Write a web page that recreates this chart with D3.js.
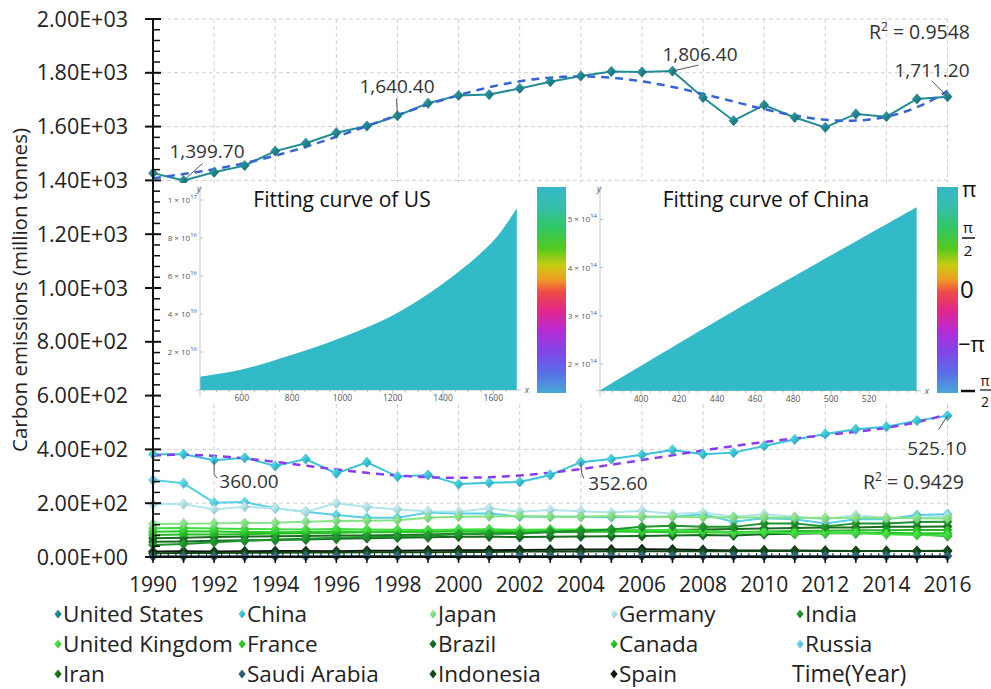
<!DOCTYPE html>
<html>
<head>
<meta charset="utf-8">
<script src="https://cdn.jsdelivr.net/npm/d3@7"></script>
<style>
  body { margin: 0; background: #fff; }
  svg { display: block; font-family: "Open Sans", "Noto Sans", sans-serif; }
</style>
</head>
<body>
<svg id="chart" width="991" height="689"></svg>
<script>
// ---------- data ----------
const years = d3.range(1990, 2017);
const yearTickValues = d3.range(1990, 2017, 2);
const yTickValues = d3.range(0, 2001, 200);

const countryNames = ["United States", "China", "Japan", "Germany", "India",
  "United Kingdom", "France", "Brazil", "Canada", "Russia",
  "Iran", "Saudi Arabia", "Indonesia", "Spain"];
const countryColors = ["#1f8088", "#38bcd2", "#7fdc7f", "#a9dde4", "#1d8f2b",
  "#3ed43e", "#22c422", "#14681f", "#27b327", "#56c9e0",
  "#176a1d", "#2c5d6d", "#0f4716", "#111611"];

const unitedStates = [1427, 1399.7, 1430, 1455, 1509, 1538, 1577, 1602, 1640.4, 1687,
  1716, 1719, 1742, 1767, 1788, 1805, 1803, 1806.4, 1708, 1622,
  1680, 1634, 1597, 1647, 1637, 1703, 1711.2];
const china = [382, 382, 360.0, 369, 338, 364, 311, 352, 299, 305,
  271, 276, 279, 305, 352.6, 364, 380, 398, 382, 388,
  413, 437, 457, 475, 484, 507, 525.1];
const japan = [123, 124, 125, 126, 127, 131, 134, 135, 137, 146,
  150, 151, 152, 150, 150, 152, 150, 150, 148, 147,
  147, 146, 145, 146, 145, 144, 143];
const germany = [197, 197, 177, 187, 181, 168, 200, 186, 177, 170,
  168, 181, 168, 175, 170, 165, 172, 160, 165, 150,
  159, 150, 140, 156, 145, 145, 152];
const india = [45, 48, 55, 60, 65, 68, 72, 74, 76, 80,
  85, 86, 86, 94, 98, 102, 112, 116, 112, 112,
  125, 125, 113, 125, 125, 130, 131];
const unitedKingdom = [107, 108, 106, 104, 103, 102, 104, 102, 101, 100,
  102, 103, 101, 102, 102, 101, 100, 100, 98, 90,
  93, 88, 90, 88, 85, 82, 80];
const france = [94, 96, 95, 93, 92, 93, 95, 94, 96, 95,
  95, 96, 94, 95, 96, 95, 94, 92, 92, 90,
  92, 88, 90, 91, 88, 88, 88];
const brazil = [57, 58, 60, 62, 63, 65, 68, 70, 72, 73,
  75, 76, 74, 75, 76, 77, 78, 80, 82, 80,
  85, 86, 88, 88, 90, 85, 78];
const canada = [82, 84, 84, 85, 87, 88, 90, 92, 93, 94,
  98, 96, 97, 100, 99, 98, 98, 100, 97, 92,
  95, 97, 98, 99, 99, 100, 100];
const russia = [286, 274, 202, 204, 181, 168, 156, 146, 146, 165,
  162, 162, 150, 150, 150, 148, 150, 150, 159, 131,
  144, 140, 125, 140, 140, 156, 159];
const iran = [70, 72, 74, 76, 77, 78, 80, 80, 82, 84,
  86, 88, 90, 92, 94, 96, 98, 100, 102, 104,
  106, 108, 110, 110, 112, 112, 113];
const saudiArabia = [3, 3, 3, 3, 3, 3, 4, 4, 4, 4,
  4, 4, 4, 4, 4, 4, 4, 4, 4, 4,
  4, 4, 4, 4, 4, 4, 4];
const indonesia = [14, 15, 15, 16, 16, 17, 17, 18, 18, 18,
  19, 19, 20, 20, 20, 21, 21, 21, 21, 21,
  22, 22, 22, 22, 22, 22, 22];
const spain = [20, 21, 20, 21, 22, 22, 21, 23, 23, 24,
  25, 25, 26, 27, 28, 28, 29, 28, 26, 24,
  24, 24, 23, 22, 22, 22, 23];

const seriesValues = [unitedStates, china, japan, germany, india,
  unitedKingdom, france, brazil, canada, russia,
  iran, saudiArabia, indonesia, spain];

const usRSquared = "0.9548";
const chinaRSquared = "0.9429";

// inset curves (x value, y value) and their axes
const usCurveX = [435, 600, 800, 1000, 1200, 1400, 1600, 1693];
const usCurveY = [0.70e16, 1.08e16, 1.85e16, 2.78e16, 3.92e16, 5.6e16, 7.85e16, 9.57e16];
const usInsetXTicks = [600, 800, 1000, 1200, 1400, 1600];
const usInsetYTicks = [2e16, 4e16, 6e16, 8e16, 1e17];
const chinaCurveX = [378, 460, 545];
const chinaCurveY = [1.45e14, 3.36e14, 5.25e14];
const chinaInsetXTicks = [400, 420, 440, 460, 480, 500, 520];
const chinaInsetYTicks = [2e14, 3e14, 4e14, 5e14];

// ---------- helpers ----------
function polyFit(xs, ys, degree) {
  const mid = (d3.min(xs) + d3.max(xs)) / 2, half = (d3.max(xs) - d3.min(xs)) / 2;
  const n = degree + 1;
  const A = Array.from({length: n}, () => new Array(n).fill(0));
  const b = new Array(n).fill(0);
  xs.forEach((xv, i) => {
    const t = (xv - mid) / half;
    const pw = [];
    for (let k = 0; k < 2 * n; k++) pw.push(Math.pow(t, k));
    for (let r = 0; r < n; r++) {
      b[r] += ys[i] * pw[r];
      for (let c = 0; c < n; c++) A[r][c] += pw[r + c];
    }
  });
  for (let col = 0; col < n; col++) {
    let piv = col;
    for (let r = col + 1; r < n; r++) if (Math.abs(A[r][col]) > Math.abs(A[piv][col])) piv = r;
    [A[col], A[piv]] = [A[piv], A[col]];
    [b[col], b[piv]] = [b[piv], b[col]];
    for (let r = col + 1; r < n; r++) {
      const f = A[r][col] / A[col][col];
      for (let c = col; c < n; c++) A[r][c] -= f * A[col][c];
      b[r] -= f * b[col];
    }
  }
  const coef = new Array(n).fill(0);
  for (let r = n - 1; r >= 0; r--) {
    let s = b[r];
    for (let c = r + 1; c < n; c++) s -= A[r][c] * coef[c];
    coef[r] = s / A[r][r];
  }
  return xv => {
    const t = (xv - mid) / half;
    return coef.reduce((acc, c, k) => acc + c * Math.pow(t, k), 0);
  };
}

function diamondPath(w, h) {
  return `M0,${-h}L${w},0L0,${h}L${-w},0Z`;
}

// ---------- scales ----------
const svg = d3.select("#chart");
const x = d3.scaleLinear().domain([1990, 2016]).range([153, 947.5]);
const y = d3.scaleLinear().domain([0, 2000]).range([557, 19]);

const defs = svg.append("defs");
countryColors.forEach((c, i) => {
  const g = defs.append("linearGradient").attr("id", "mk" + i)
    .attr("x1", "0").attr("y1", "0").attr("x2", "1").attr("y2", "1");
  g.append("stop").attr("offset", "0%").attr("stop-color", d3.color(c).brighter(0.9));
  g.append("stop").attr("offset", "55%").attr("stop-color", c);
  g.append("stop").attr("offset", "100%").attr("stop-color", d3.color(c).darker(0.6));
});

// ---------- grid ----------
const grid = svg.append("g").attr("stroke", "#cfcfcf").attr("stroke-width", 1)
  .attr("stroke-dasharray", "4,3");
grid.selectAll("line.h").data(yTickValues.filter(v => v > 0)).join("line")
  .attr("x1", x(1990)).attr("x2", x(2016))
  .attr("y1", d => y(d)).attr("y2", d => y(d));
grid.selectAll("line.v").data(yearTickValues.filter(v => v > 1990)).join("line")
  .attr("x1", d => x(d)).attr("x2", d => x(d))
  .attr("y1", y(2000)).attr("y2", y(0));

// ---------- series ----------
const line = d3.line().x((d, i) => x(years[i])).y(d => y(d));
const seriesLayer = svg.append("g");
const drawOrder = d3.range(seriesValues.length).reverse();

const usFit = polyFit(years, unitedStates, 6);
const chinaFit = polyFit(years, china, 6);
const fineYears = d3.range(1990, 2016.001, 0.1);

drawOrder.forEach(i => {
  const g = seriesLayer.append("g");
  const vals = seriesValues[i];
  g.append("path").datum(vals)
    .attr("d", line).attr("fill", "none")
    .attr("stroke", d3.color(countryColors[i]).brighter(i === 0 ? 0.25 : 0.1))
    .attr("stroke-width", 2);
  if (i === 1) {
    g.append("path").datum(fineYears)
      .attr("d", d3.line().x(d => x(d)).y(d => y(chinaFit(d))))
      .attr("fill", "none").attr("stroke", "#8a3cf0").attr("stroke-width", 2.5)
      .attr("stroke-dasharray", "8,6");
  }
  if (i === 0) {
    g.append("path").datum(fineYears)
      .attr("d", d3.line().x(d => x(d)).y(d => y(usFit(d))))
      .attr("fill", "none").attr("stroke", "#3563d8").attr("stroke-width", 2.5)
      .attr("stroke-dasharray", "8,6");
  }
  g.selectAll("path.mk").data(vals).join("path")
    .attr("class", "mk")
    .attr("d", diamondPath(4.6, 5.2))
    .attr("transform", (d, j) => `translate(${x(years[j])},${y(d)})`)
    .attr("fill", `url(#mk${i})`)
    .attr("stroke", d3.color(countryColors[i]).darker(0.3)).attr("stroke-width", 0.5);
});

// ---------- value annotations ----------
const fmt = d3.format(",.2f");
const annotations = [
  {s: 0, yr: 1991, lx: 207, ly: 158, path: (px, py) => `M${px},${py}L${px + 19},${py - 17}`},
  {s: 0, yr: 1998, lx: 397, ly: 93, path: (px, py) => `M${px},${py}L${px - 1},${py - 17}`},
  {s: 0, yr: 2007, lx: 700, ly: 61, path: (px, py) => `M${px},${py}L${px + 26},${py - 6}`},
  {s: 0, yr: 2016, lx: 932, ly: 77, path: (px, py) => `M${px},${py}L${px - 16},${py - 16}`},
  {s: 1, yr: 1992, lx: 249, ly: 488, path: (px, py) => `M${px},${py}L${px},${py + 14}L${px + 3},${py + 18}`},
  {s: 1, yr: 2004, lx: 618, ly: 490, path: (px, py) => `M${px},${py}L${px + 1},${py + 12}L${px + 3},${py + 16}`},
  {s: 1, yr: 2016, lx: 937, ly: 455, path: (px, py) => `M${px},${py}L${px - 9},${py + 14}`}
];
const annLayer = svg.append("g");
annotations.forEach(a => {
  const v = seriesValues[a.s][years.indexOf(a.yr)];
  const px = x(a.yr), py = y(v);
  annLayer.append("path").attr("d", a.path(px, py))
    .attr("stroke", "#555").attr("stroke-width", 1).attr("fill", "none");
  annLayer.append("text").attr("x", a.lx).attr("y", a.ly)
    .attr("text-anchor", "middle").attr("font-size", 19).attr("fill", "#333")
    .text(fmt(v));
});

function rSquared(xr, yb, val) {
  const t = annLayer.append("text").attr("x", xr).attr("y", yb)
    .attr("text-anchor", "end").attr("font-size", 19.5).attr("fill", "#333");
  t.append("tspan").text("R");
  t.append("tspan").attr("font-size", 12).attr("dy", -8).text("2");
  t.append("tspan").attr("dy", 8).text(" = " + val);
}
rSquared(970, 39, usRSquared);
rSquared(964, 489, chinaRSquared);

// ---------- insets ----------
const inset = svg.append("g");
inset.append("rect").attr("x", 161).attr("y", 183).attr("width", 830).attr("height", 220)
  .attr("fill", "#fff");

const hueStops = [
  [0, "#36b8c7"], [0.1, "#35bfa9"], [0.2, "#30c862"], [0.3, "#55c91e"],
  [0.38, "#c9cc12"], [0.45, "#f09a22"], [0.51, "#ee4b45"], [0.6, "#e3268a"],
  [0.7, "#b52bd6"], [0.8, "#8045e6"], [0.9, "#5a6ee8"], [1, "#47a8d6"]];
const cb = defs.append("linearGradient").attr("id", "hueBar")
  .attr("x1", 0).attr("y1", 0).attr("x2", 0).attr("y2", 1);
hueStops.forEach(s => cb.append("stop").attr("offset", s[0]).attr("stop-color", s[1]));

function sciLabel(sel, mant, exp) {
  sel.append("tspan").text(mant + " \u00d7 10");
  sel.append("tspan").attr("font-size", 6).attr("dy", -4).text(exp);
}

function drawInset(o) {
  const g = inset.append("g");
  const ix = d3.scaleLinear().domain(o.xDomain).range([o.left, o.right]);
  const iy = d3.scaleLinear().domain(o.yDomain).range([o.bottom, o.bottom - o.yPx]);
  g.append("line").attr("x1", o.left).attr("x2", o.left).attr("y1", o.top).attr("y2", o.bottom + 6)
    .attr("stroke", "#c8c8c8");
  g.append("line").attr("x1", o.left - 4).attr("x2", o.right + 4).attr("y1", o.bottom).attr("y2", o.bottom)
    .attr("stroke", "#c8c8c8");
  const area = d3.area().x((d, i) => ix(o.cx[i])).y0(o.bottom).y1(d => iy(d))
    .curve(d3.curveCatmullRom.alpha(0.5));
  g.append("path").datum(o.cy).attr("d", area).attr("fill", "#33bac8");
  const xt = ix.ticks(o.xTicks.length * 4).filter(v => v >= o.xDomain[0] && v <= o.xDomain[1]);
  g.selectAll("line.xt").data(xt).join("line")
    .attr("x1", d => ix(d)).attr("x2", d => ix(d))
    .attr("y1", o.bottom).attr("y2", d => o.xTicks.includes(d) ? o.bottom + 4 : o.bottom + 2)
    .attr("stroke", "#bbb");
  g.selectAll("text.xl").data(o.xTicks).join("text")
    .attr("x", d => ix(d)).attr("y", o.bottom + 11)
    .attr("text-anchor", "middle").attr("font-size", 8.5).attr("fill", "#555")
    .text(d => d);
  g.selectAll("line.yt").data(o.yTicks).join("line")
    .attr("x1", o.left).attr("x2", o.left + 3)
    .attr("y1", d => iy(d)).attr("y2", d => iy(d)).attr("stroke", "#bbb");
  o.yTicks.forEach(v => {
    const e = Math.floor(Math.log10(v) + 1e-9);
    const m = Math.round(v / Math.pow(10, e));
    const t = g.append("text").attr("x", o.left - 3).attr("y", iy(v) + 3)
      .attr("text-anchor", "end").attr("font-size", 8).attr("fill", "#555");
    sciLabel(t, m, e);
  });
  g.append("text").attr("x", o.left - 1).attr("y", o.top + 6).attr("font-size", 9)
    .attr("font-style", "italic").attr("fill", "#555").attr("text-anchor", "middle").text("y");
  g.append("text").attr("x", o.right + 10).attr("y", o.bottom + 3).attr("font-size", 9)
    .attr("font-style", "italic").attr("fill", "#555").attr("text-anchor", "middle").text("x");
  g.append("text").attr("x", o.titleX).attr("y", 207).attr("text-anchor", "middle")
    .attr("font-size", 21).attr("fill", "#111").text(o.title);
  g.append("rect").attr("x", o.barX).attr("y", 187).attr("width", o.barW).attr("height", 206)
    .attr("fill", "url(#hueBar)");
}

drawInset({
  title: "Fitting curve of US", titleX: 342,
  left: 200, right: 517, top: 186, bottom: 390, yPx: 190,
  xDomain: [434, 1694], yDomain: [0, 1e17],
  cx: usCurveX, cy: usCurveY, xTicks: usInsetXTicks, yTicks: usInsetYTicks,
  barX: 537, barW: 29
});
drawInset({
  title: "Fitting curve of China", titleX: 766,
  left: 600, right: 917, top: 186, bottom: 390.7, yPx: 171.4,
  xDomain: [378.4, 545.2], yDomain: [1.45e14, 5e14],
  cx: chinaCurveX, cy: chinaCurveY, xTicks: chinaInsetXTicks, yTicks: chinaInsetYTicks,
  barX: 937, barW: 21
});

// colorbar phase labels
const ph = inset.append("g").attr("fill", "#111");
ph.append("text").attr("x", 962).attr("y", 197).attr("font-size", 22).text("\u03c0");
ph.append("text").attr("x", 968).attr("y", 233).attr("font-size", 15).attr("text-anchor", "middle").text("\u03c0");
ph.append("line").attr("x1", 962).attr("x2", 975).attr("y1", 238).attr("y2", 238).attr("stroke", "#111").attr("stroke-width", 1.5);
ph.append("text").attr("x", 968).attr("y", 256).attr("font-size", 15).attr("text-anchor", "middle").text("2");
ph.append("text").attr("x", 960).attr("y", 298).attr("font-size", 24).text("0");
ph.append("text").attr("x", 958).attr("y", 352).attr("font-size", 22).text("\u2212\u03c0");
ph.append("line").attr("x1", 961).attr("x2", 975).attr("y1", 391).attr("y2", 391).attr("stroke", "#111").attr("stroke-width", 2.5);
ph.append("text").attr("x", 985).attr("y", 386).attr("font-size", 14).attr("text-anchor", "middle").text("\u03c0");
ph.append("line").attr("x1", 980).attr("x2", 991).attr("y1", 390).attr("y2", 390).attr("stroke", "#111").attr("stroke-width", 1.2);
ph.append("text").attr("x", 985).attr("y", 407).attr("font-size", 14).attr("text-anchor", "middle").text("2");

// ---------- axes ----------
const axes = svg.append("g").attr("stroke", "#111");
axes.append("line").attr("x1", x(1990)).attr("x2", x(1990)).attr("y1", y(2000)).attr("y2", y(0))
  .attr("stroke-width", 2);
axes.append("line").attr("x1", x(1990)).attr("x2", x(2016)).attr("y1", y(0)).attr("y2", y(0))
  .attr("stroke-width", 2);
axes.selectAll("line.ymaj").data(yTickValues).join("line")
  .attr("x1", x(1990) - 8).attr("x2", x(1990) + 8)
  .attr("y1", d => y(d)).attr("y2", d => y(d)).attr("stroke-width", 2);
axes.selectAll("line.ymin").data(d3.range(0, 2000, 40).filter(v => v % 200 !== 0)).join("line")
  .attr("x1", x(1990)).attr("x2", x(1990) + 7)
  .attr("y1", d => y(d)).attr("y2", d => y(d)).attr("stroke-width", 1.5);
axes.selectAll("line.xmaj").data(years).join("line")
  .attr("x1", d => x(d)).attr("x2", d => x(d))
  .attr("y1", y(0)).attr("y2", y(0) + 6).attr("stroke-width", 1.5);
axes.selectAll("line.xmin").data(d3.range(1990, 2016, 0.25).filter(v => v % 1 !== 0)).join("line")
  .attr("x1", d => x(d)).attr("x2", d => x(d))
  .attr("y1", y(0)).attr("y2", y(0) - 4).attr("stroke-width", 1);

const yFmt = v => {
  const s = v.toExponential(2).toUpperCase();
  const [m, e] = s.split("E");
  const ev = parseInt(e, 10);
  return m + "E" + (ev < 0 ? "-" : "+") + String(Math.abs(ev)).padStart(2, "0");
};
svg.append("g").selectAll("text").data(yTickValues).join("text")
  .attr("x", 128).attr("y", d => y(d) + 7.5).attr("text-anchor", "end")
  .attr("font-size", 21.5).attr("fill", "#222").text(yFmt);
svg.append("g").selectAll("text").data(yearTickValues).join("text")
  .attr("x", d => x(d)).attr("y", 592).attr("text-anchor", "middle")
  .attr("font-size", 21).attr("fill", "#222").text(d => d);
svg.append("text").attr("transform", "translate(27,290) rotate(-90)")
  .attr("text-anchor", "middle").attr("font-size", 20.5).attr("fill", "#222")
  .text("Carbon emissions (million tonnes)");

// ---------- legend ----------
const legendCols = [58, 242, 433, 614, 800];
const legendRows = [614, 644, 674];
const legend = svg.append("g");
countryNames.forEach((name, i) => {
  const cx = legendCols[i % 5], cy = legendRows[Math.floor(i / 5)];
  legend.append("path").attr("d", diamondPath(3.6, 4.6))
    .attr("transform", `translate(${cx},${cy})`).attr("fill", `url(#mk${i})`);
  legend.append("text").attr("x", cx + 5).attr("y", cy + 8).attr("font-size", 22.5)
    .attr("fill", "#222").text(name);
});
legend.append("text").attr("x", legendCols[4] - 8).attr("y", legendRows[2] + 8)
  .attr("font-size", 23).attr("fill", "#222").text("Time(Year)");
</script>
</body>
</html>
